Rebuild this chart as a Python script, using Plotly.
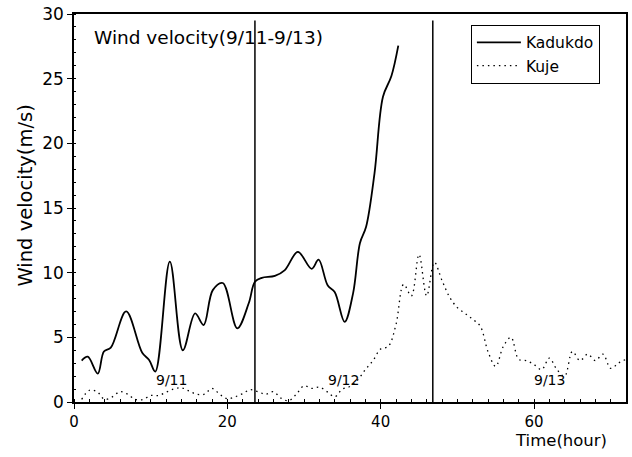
import plotly.graph_objects as go

# Kadukdo (solid line) - hours and wind velocity (m/s)
kadukdo_hour = [1.0, 1.8, 3.1, 3.9, 4.8, 6.8, 8.9, 9.8, 10.6, 12.5, 14.2, 15.8, 16.9,
                18.1, 19.4, 21.3, 22.8, 23.6, 24.5, 26.2, 27.5, 29.2, 31.0, 31.9,
                33.1, 34.0, 35.3, 36.4, 37.3, 38.1, 39.2, 40.3, 41.4, 42.3]
kadukdo_vel = [3.2, 3.5, 2.2, 3.9, 4.2, 7.0, 3.8, 3.25, 2.35, 10.85, 4.0, 6.85, 5.95,
               8.65, 9.2, 5.7, 7.65, 9.3, 9.6, 9.75, 10.2, 11.6, 10.3, 11.0,
               9.0, 8.5, 6.2, 8.4, 12.3, 13.55, 17.7, 23.6, 25.2, 27.55]

# Kuje (dotted line) - hourly
kuje_hour = list(range(1, 73))
kuje_vel = [0.2, 0.9, 0.8, 0.2, 0.4, 0.8, 0.6, 0.2, 0.2, 0.5,
            0.5, 0.75, 1.0, 1.1, 0.85, 0.6, 0.6, 1.05, 0.6, 0.25,
            0.4, 0.65, 0.95, 0.8, 0.6, 0.8, 0.3, 0.1, 0.6, 1.25,
            1.05, 1.15, 0.8, 0.4, 1.0, 1.2, 1.7, 2.5, 3.2, 4.1,
            4.3, 6.0, 9.1, 8.2, 11.4, 8.2, 10.8, 9.4, 8.1, 7.3,
            6.85, 6.4, 5.85, 3.9, 2.75, 4.3, 5.0, 3.3, 3.2, 2.9,
            2.5, 3.4, 2.5, 2.0, 3.9, 3.2, 3.7, 3.2, 3.7, 2.6,
            3.0, 3.3]

day_hours = [23.6, 46.8]
day_labels = ["9/11", "9/12", "9/13"]
day_label_x = [12.7, 35.1, 62.0]
day_label_y = [1.7, 1.7, 1.7]

FONT = "DejaVu Sans, Verdana, sans-serif"

fig = go.Figure()
fig.add_trace(go.Scatter(x=kadukdo_hour, y=kadukdo_vel, mode="lines", name="Kadukdo",
                         line=dict(color="black", width=1.8, shape="spline", smoothing=1.0)))
fig.add_trace(go.Scatter(x=kuje_hour, y=kuje_vel, mode="lines", name="Kuje",
                         line=dict(color="black", width=1.3, dash="1.5px,4px",
                                   shape="spline", smoothing=1.0)))

for h in day_hours:
    fig.add_shape(type="line", x0=h, x1=h, y0=0, y1=29.5, xref="x", yref="y",
                  line=dict(color="black", width=1.5))

for lx, ly, lt in zip(day_label_x, day_label_y, day_labels):
    fig.add_annotation(x=lx, y=ly, text=lt, showarrow=False, xref="x", yref="y",
                       font=dict(family=FONT, size=14, color="black"))

fig.add_annotation(x=2.4, y=28.2, xref="x", yref="y", xanchor="left", yanchor="middle",
                   text="Wind velocity(9/11-9/13)", showarrow=False,
                   font=dict(family=FONT, size=18.5, color="black"))

fig.add_annotation(x=0.969, y=-0.1, xref="paper", yref="paper", xanchor="right", yanchor="middle",
                   text="Time(hour)", showarrow=False,
                   font=dict(family=FONT, size=16.5, color="black"))
fig.add_annotation(x=-0.087, y=0.532, xref="paper", yref="paper", xanchor="center", yanchor="middle",
                   text="Wind velocity(m/s)", textangle=-90, showarrow=False,
                   font=dict(family=FONT, size=19.5, color="black"))

fig.update_layout(
    width=632, height=457,
    margin=dict(l=74, r=4, t=13, b=55),
    paper_bgcolor="white", plot_bgcolor="white",
    font=dict(family=FONT, size=14, color="black"),
    showlegend=True,
    legend=dict(x=0.719, y=0.972, xanchor="left", yanchor="top",
                bordercolor="black", borderwidth=1, bgcolor="white",
                font=dict(family=FONT, size=15.5, color="black"),
                tracegroupgap=0, itemwidth=44),
    xaxis=dict(range=[0, 72], tickmode="array", tickvals=[0, 20, 40, 60],
               ticks="outside", ticklen=5, tickwidth=1, tickcolor="black",
               tickfont=dict(family=FONT, size=15, color="black"),
               showline=True, linecolor="black", linewidth=1.5, mirror=True,
               showgrid=False, zeroline=False,
               minor=dict(ticks="inside", dtick=2, ticklen=3, tickcolor="black", showgrid=False)),
    yaxis=dict(range=[0, 30], tickmode="array", tickvals=[0, 5, 10, 15, 20, 25, 30],
               ticks="outside", ticklen=5, tickwidth=1, tickcolor="black",
               tickfont=dict(family=FONT, size=17, color="black"),
               showline=True, linecolor="black", linewidth=1.5, mirror=True,
               showgrid=False, zeroline=False,
               minor=dict(ticks="inside", dtick=1, ticklen=2, tickcolor="black", showgrid=False)),
)

fig.write_html("out.html", config={"displayModeBar": False},
               post_script="document.body.style.margin='0';")
